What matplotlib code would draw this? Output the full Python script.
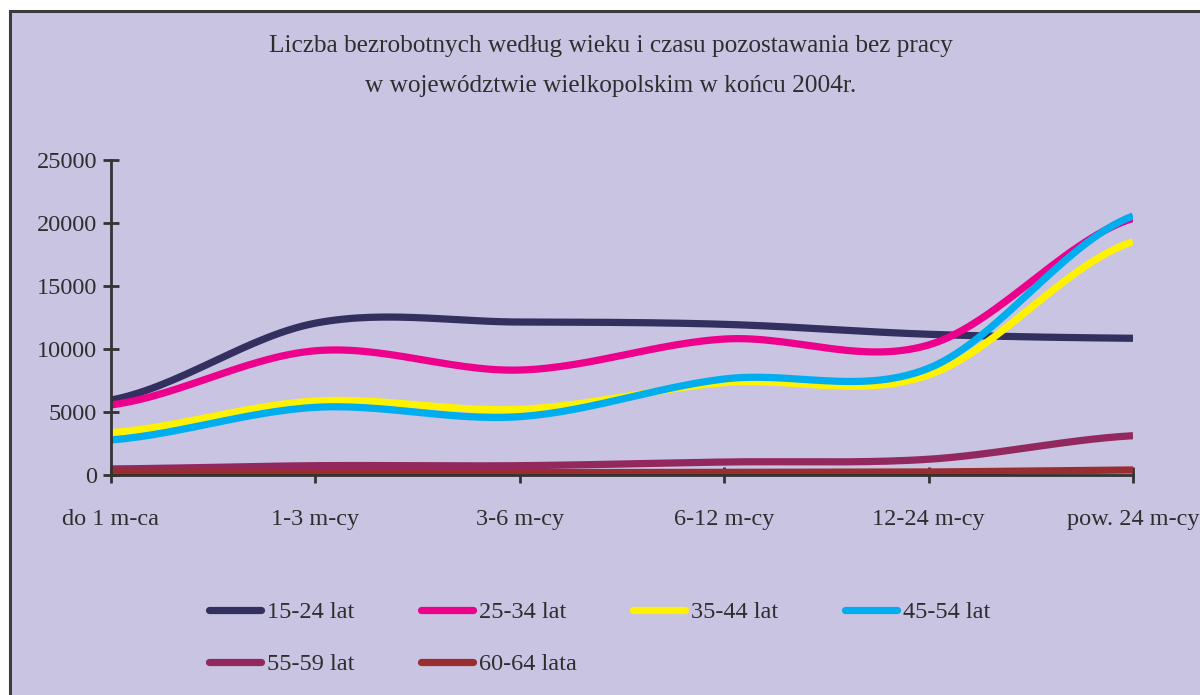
import numpy as np
import matplotlib.pyplot as plt
from matplotlib.lines import Line2D
from matplotlib.patches import Rectangle

plt.rcParams["font.family"] = ["Liberation Serif", "DejaVu Serif"]

categories = ["do 1 m-ca", "1-3 m-cy", "3-6 m-cy", "6-12 m-cy", "12-24 m-cy", "pow. 24 m-cy"]
age_groups = ["15-24 lat", "25-34 lat", "35-44 lat", "45-54 lat", "55-59 lat", "60-64 lata"]

v_15_24 = [5950, 12050, 12140, 11960, 11170, 10850]
v_25_34 = [5560, 9860, 8330, 10790, 10320, 20370]
v_35_44 = [3360, 5870, 5210, 7330, 7940, 18520]
v_45_54 = [2780, 5370, 4630, 7620, 8470, 20560]
v_55_59 = [480, 740, 740, 1030, 1250, 3120]
v_60_64 = [240, 190, 190, 210, 240, 400]

series = [v_15_24, v_25_34, v_35_44, v_45_54, v_55_59, v_60_64]
colors = ["#33305f", "#ec008c", "#fff200", "#00aeef", "#93285e", "#992d30"]

y_ticks = [0, 5000, 10000, 15000, 20000, 25000]

title = ("Liczba bezrobotnych według wieku i czasu pozostawania bez pracy\n"
         "w województwie wielkopolskim w końcu 2004r.")

BG = "#c8c4e2"
DARK = "#333333"


def smooth(y, steps=30):
    # Catmull-Rom through the points, like a spreadsheet's smoothed line
    y = np.asarray(y, dtype=float)
    p = np.concatenate([[y[0]], y, [y[-1]]])
    xs, ys = [], []
    for i in range(len(y) - 1):
        p0, p1, p2, p3 = p[i], p[i + 1], p[i + 2], p[i + 3]
        t = np.linspace(0, 1, steps, endpoint=False)
        seg = 0.5 * (2 * p1 + (-p0 + p2) * t
                     + (2 * p0 - 5 * p1 + 4 * p2 - p3) * t ** 2
                     + (-p0 + 3 * p1 - 3 * p2 + p3) * t ** 3)
        xs.append(i + t)
        ys.append(seg)
    xs.append([len(y) - 1])
    ys.append([y[-1]])
    return np.concatenate(xs), np.concatenate(ys)


fig = plt.figure(figsize=(12, 6.95), dpi=100, facecolor="white")
W, H = 1200, 695

# panel with dark frame on left and top
fig.add_artist(Rectangle((10 / W, -0.05), 1.1, 1 - 11 / H + 0.05,
                         transform=fig.transFigure, facecolor=BG,
                         edgecolor="#3c3c3c", linewidth=2.2, zorder=0))

ax = fig.add_axes([111 / W, 220 / H, (1133 - 111) / W, 315 / H])
ax.set_facecolor("none")

for vals, color in zip(series, colors):
    xs, ys = smooth(vals)
    ax.plot(xs, ys, color=color, linewidth=5.2, solid_capstyle="butt")

ax.set_xlim(0, len(categories) - 1)
ax.set_ylim(0, 25000)
ax.set_xticks(range(len(categories)))
ax.set_xticklabels(categories)
ax.set_yticks(y_ticks)
ax.set_yticklabels([str(t) for t in y_ticks])

for side in ["top", "right"]:
    ax.spines[side].set_visible(False)
for side in ["left", "bottom"]:
    ax.spines[side].set_color(DARK)
    ax.spines[side].set_linewidth(2)

ax.tick_params(axis="y", direction="inout", length=11, width=2, color=DARK,
               labelsize=17.5, labelcolor="#2e2e2e", pad=4.5)
ax.tick_params(axis="x", direction="inout", length=11, width=2, color=DARK,
               labelsize=17.5, labelcolor="#2e2e2e", pad=19)

fig.text(611 / W, 1 - 66 / H, title, ha="center", va="center", fontsize=18.2,
         color="#2e2e2e", linespacing=2.1)

# legend, drawn by hand in two rows of four
for i, (name, color) in enumerate(zip(age_groups, colors)):
    row, col = divmod(i, 4)
    x0 = (209 + col * 212) / W
    y0 = 1 - (610 + row * 52) / H
    fig.add_artist(Line2D([x0, x0 + 52 / W], [y0, y0], transform=fig.transFigure,
                          color=color, linewidth=5.2, solid_capstyle="round"))
    fig.text(x0 + 58 / W, y0 - 3 / H, name, ha="left", va="center",
             fontsize=17.5, color="#2e2e2e")

fig.savefig("out.png", dpi=100, facecolor="white")
